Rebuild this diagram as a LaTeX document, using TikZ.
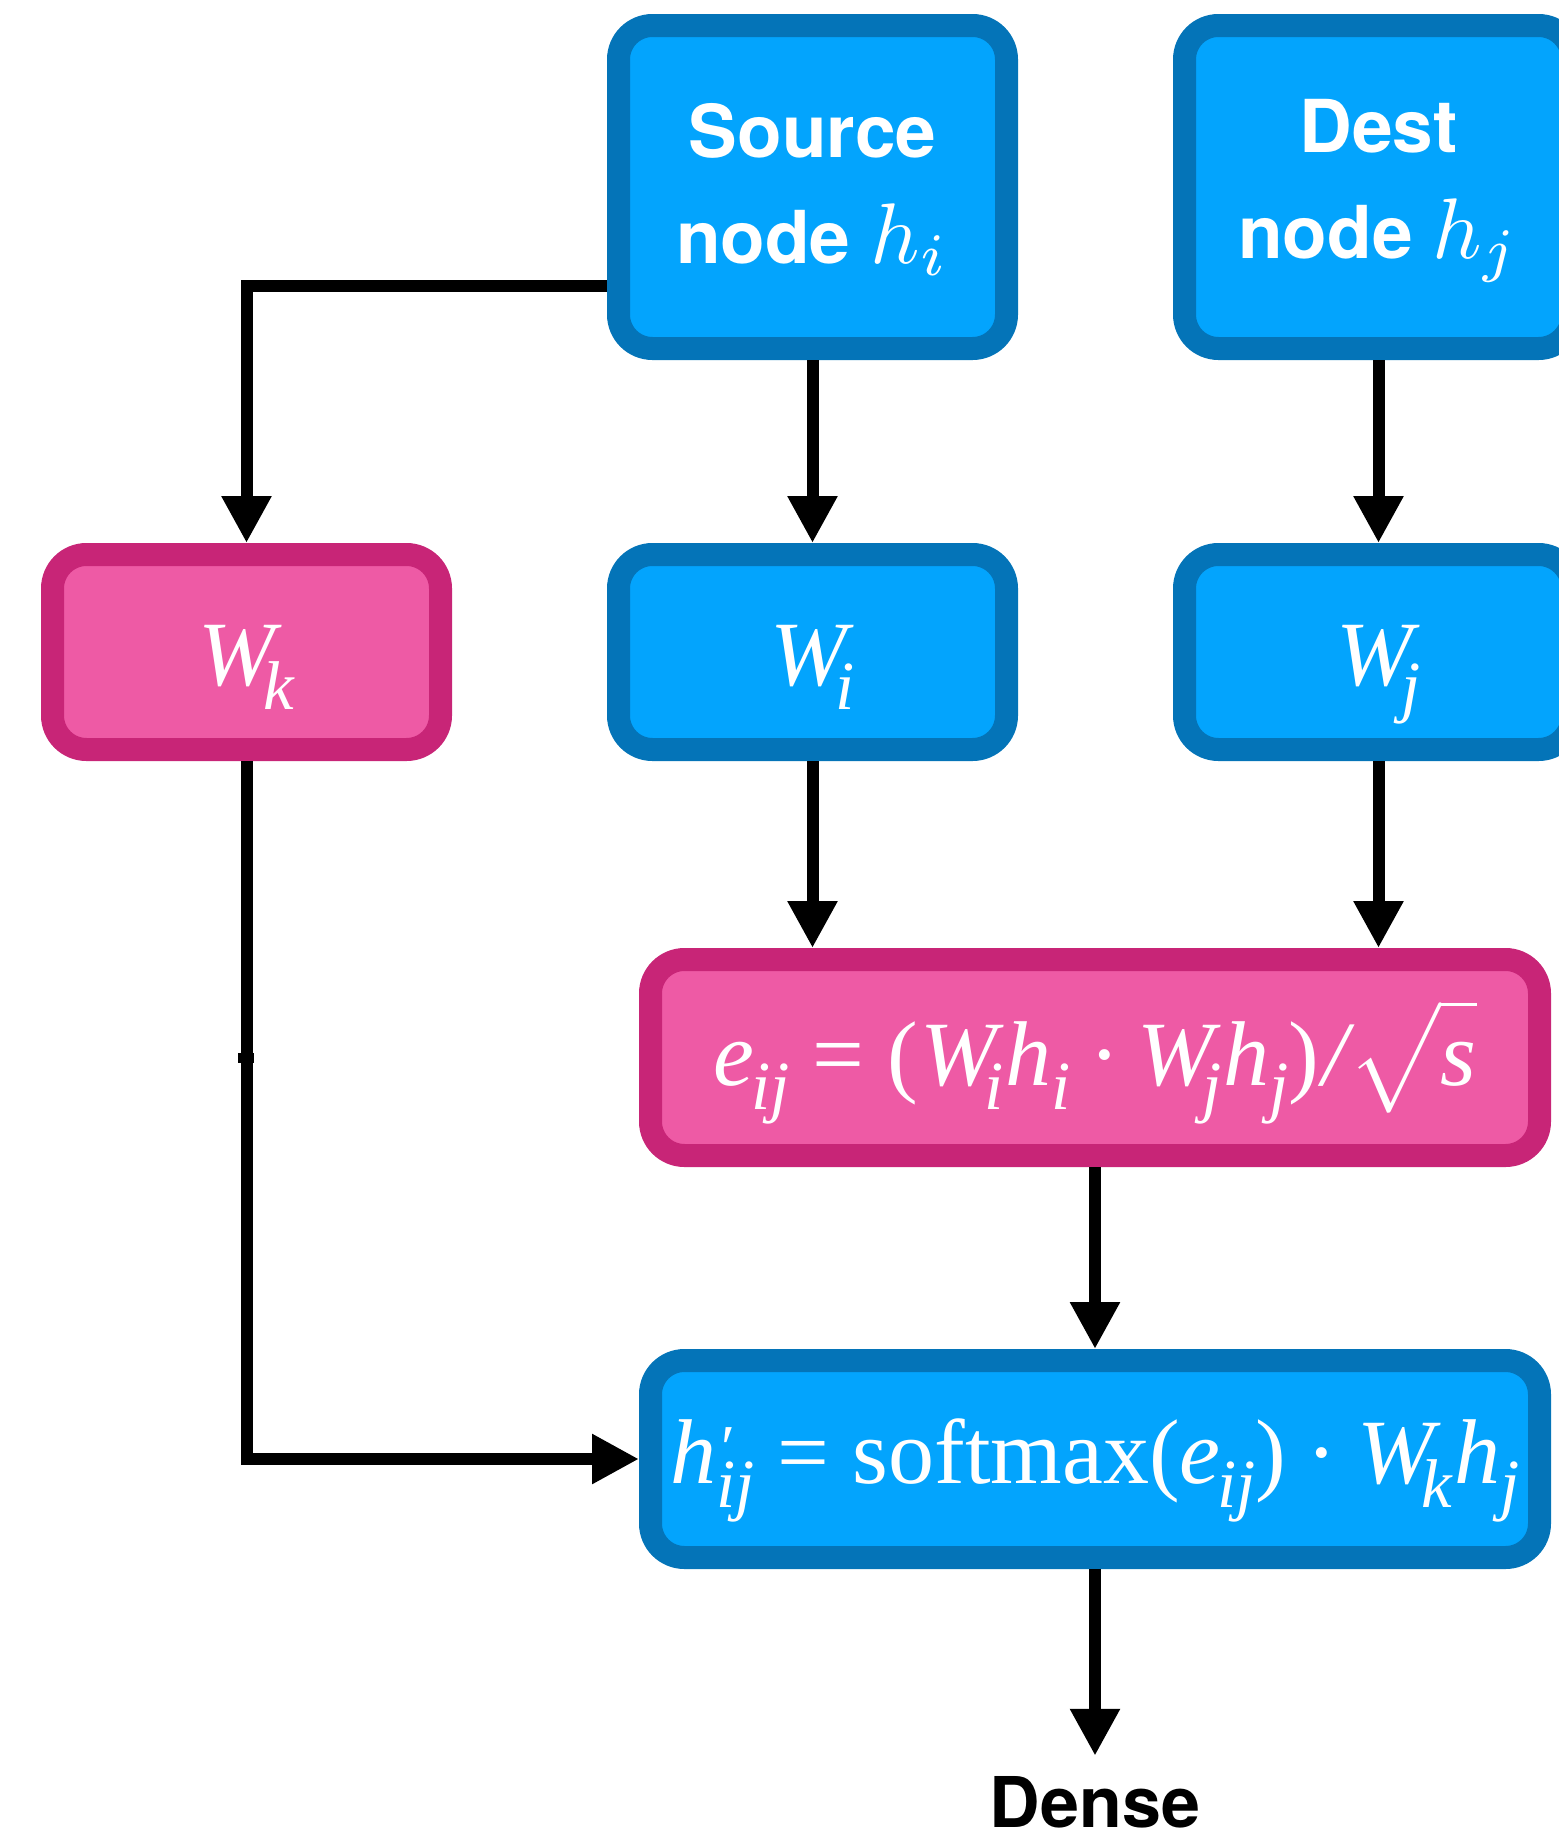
\documentclass[tikz,border=0pt]{standalone}
\usepackage{fontspec}
\setsansfont{TeX Gyre Heros}
\newfontfamily\tms{Liberation Serif}
\usetikzlibrary{arrows.meta}

\definecolor{bluefill}{HTML}{03A4FD}
\definecolor{blueedge}{HTML}{0474B8}
\definecolor{pinkfill}{HTML}{EE5AA5}
\definecolor{pinkedge}{HTML}{C82577}

% lowered index for the serif formulas
\newcommand\lo[1]{\raisebox{-24pt}{\fontsize{69}{69}\selectfont #1}}
% math set at 10pt and enlarged
\newcommand\bigmath[2]{\scalebox{#1}{\fontsize{10}{12}\selectfont$#2$}}

\tikzset{
  box/.style={rectangle, rounded corners=34pt, line width=23pt, text=white,
    inner sep=0pt, align=center},
  bluebox/.style={box, draw=blueedge, fill=bluefill},
  pinkbox/.style={box, draw=pinkedge, fill=pinkfill},
  colbox/.style={minimum width=388pt},
  widebox/.style={minimum width=889pt},
  conn/.style={line width=12pt, line join=miter,
    -{Triangle[length=47pt,width=47pt]}},
  lbl/.style={font=\fontsize{73}{106}\selectfont\sffamily\bfseries},
  eqn/.style={font=\fontsize{92}{100}\selectfont\tms},
}

\begin{document}
\begin{tikzpicture}[x=1pt, y=-1pt]
  \useasboundingbox (0,0) rectangle (1558,1839);

  % input nodes
  \node[bluebox, colbox, minimum height=323pt, lbl, text height=170pt, text depth=18pt]
    (src) at (812.5,187) {\begin{tabular}[b]{@{}c@{}}Source\\node \bigmath{8.6}{h_i}\end{tabular}};
  \node[bluebox, colbox, minimum height=323pt, lbl, text height=160pt, text depth=18pt]
    (dst) at (1378.5,187) {\begin{tabular}[b]{@{}c@{}}Dest\\node \bigmath{8.6}{h_j}\end{tabular}};

  % projection matrices
  \node[pinkbox, colbox, minimum height=195pt, eqn, text height=80pt, text depth=14pt]
    (wk) at (246.5,652) {\itshape W\kern-12pt\lo{k}};
  \node[bluebox, colbox, minimum height=195pt, eqn, text height=80pt, text depth=14pt]
    (wi) at (812.5,652) {\itshape W\kern-12pt\lo{i}};
  \node[bluebox, colbox, minimum height=195pt, eqn, text height=80pt, text depth=14pt]
    (wj) at (1378.5,652) {\itshape W\kern-12pt\lo{j}};

  % attention score
  \node[pinkbox, widebox, minimum height=196pt, eqn, text height=75pt, text depth=20pt]
    (eij) at (1095,1057.5)
    {{\itshape e\kern-3pt\lo{ij}}\hspace{23pt}=\hspace{23pt}(\kern2pt{\itshape W\kern-12pt\lo{i}\kern2pt h\lo{i}}%
     \hspace{18pt}·\hspace{18pt}{\itshape W\kern-12pt\lo{j}\kern2pt h\lo{j}})\kern3pt{\itshape /}\kern1pt%
     \bigmath{9.2}{\sqrt{\vphantom{(}\mbox{\itshape s}}}};

  % weighted message
  \node[bluebox, widebox, minimum height=197pt, eqn, text height=70pt, text depth=22pt]
    (hp) at (1095,1459)
    {{\itshape h\rlap{\kern1pt\raisebox{14pt}{\fontsize{64}{64}\selectfont\char"2032}}\lo{ij}}%
     \hspace{23pt}=\hspace{23pt}softmax({\itshape e\kern-3pt\lo{ij}})%
     \hspace{20pt}·\hspace{20pt}{\itshape W\kern-12pt\lo{k}\kern2pt h\lo{j}}};

  % output
  \node[font=\fontsize{70}{80}\selectfont\sffamily\bfseries, inner sep=0pt, anchor=base]
    (dense) at (1095,1827) {Dense};

  % connectors
  \draw[conn] ([yshift=-99pt]src.west) -| (wk.north);
  \draw[conn] (src.south) -- (wi.north);
  \draw[conn] (dst.south) -- (wj.north);
  \draw[conn] (wi.south) -- (wi.south |- eij.north);
  \draw[conn] (wj.south) -- (wj.south |- eij.north);
  \draw[conn] (eij.south) -- (hp.north);
  \draw[conn] (wk.south) |- (hp.west);
  \draw[conn] (hp.south) -- ([yshift=20pt]dense.north);

  % small joint mark on the long vertical line
  \fill (238,1053) rectangle (254,1063);
\end{tikzpicture}
\end{document}
